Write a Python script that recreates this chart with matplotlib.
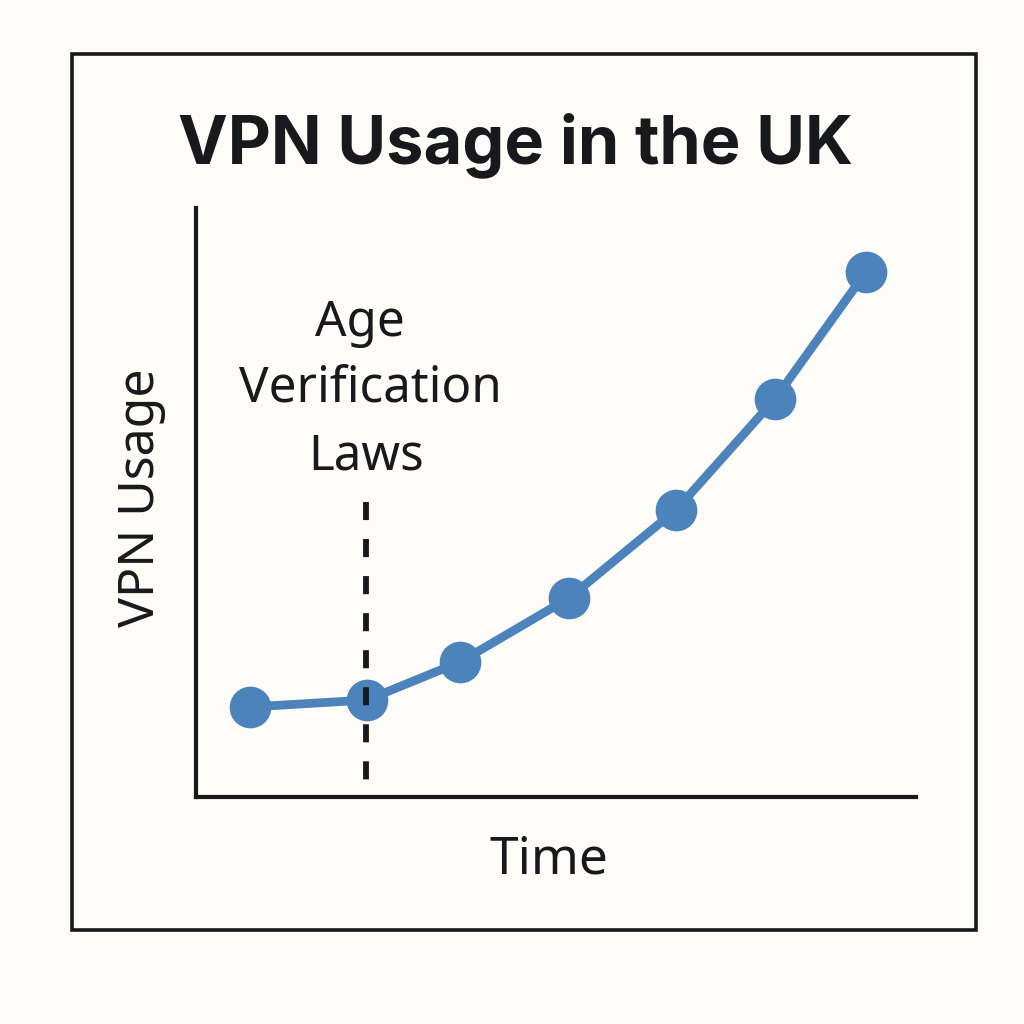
import matplotlib.pyplot as plt
from matplotlib.patches import Rectangle

# axes use pixel-like units from the origin corner
time_points = [55, 172, 265, 374, 481, 580, 671]
vpn_usage = [90, 97, 135, 199, 287, 398, 525]
law_time = 171
law_top = 295
law_bottom = 16
law_lines = ['Age', 'Verification', 'Laws']

bg_color = '#fdfcf8'
line_color = '#4b83ba'
ink = '#17191c'

fig = plt.figure(figsize=(10.24, 10.24), dpi=100, facecolor=bg_color)

# outer frame
fig.add_artist(Rectangle((72 / 1024, 1 - 930 / 1024), 904 / 1024, 876 / 1024,
                         transform=fig.transFigure, fill=False, edgecolor=ink, linewidth=2.6))

ax = fig.add_axes([196 / 1024, 1 - 797 / 1024, 720 / 1024, 589 / 1024])
ax.set_facecolor('none')
ax.set_xlim(1, 721)
ax.set_ylim(0, 589)

ax.plot(time_points, vpn_usage, color=line_color, linewidth=6.3, marker='o', markersize=29,
        solid_capstyle='round', clip_on=False, zorder=2)
# top to bottom so the first dash starts at the top
ax.plot([law_time, law_time], [law_top, law_bottom], color=ink, linewidth=4.2,
        linestyle=(0, (3.1, 3.25)), zorder=3)

ax.spines['top'].set_visible(False)
ax.spines['right'].set_visible(False)
ax.spines['left'].set_linewidth(3)
ax.spines['bottom'].set_linewidth(3)
ax.spines['left'].set_color(ink)
ax.spines['bottom'].set_color(ink)
ax.set_xticks([])
ax.set_yticks([])

fig.text(515 / 1024, 1 - 145 / 1024, 'VPN Usage in the UK', ha='center', va='center',
         fontsize=48, fontweight='bold', family='Inter', color=ink)
fig.text(549 / 1024, 1 - 860 / 1024, 'Time', ha='center', va='center',
         fontsize=37, family='Noto Sans', color=ink)
fig.text(141 / 1024, 1 - 498 / 1024, 'VPN Usage', ha='center', va='center', rotation=90,
         fontsize=36, family='Noto Sans', color=ink)

# the three lines are not quite centred on each other
for text, x, y in zip(law_lines, [360, 370, 366], [323, 388, 456]):
    fig.text(x / 1024, 1 - y / 1024, text, ha='center', va='center',
             fontsize=35.5, family='Noto Sans', color=ink)

fig.savefig('out.png', dpi=100, facecolor=bg_color)
